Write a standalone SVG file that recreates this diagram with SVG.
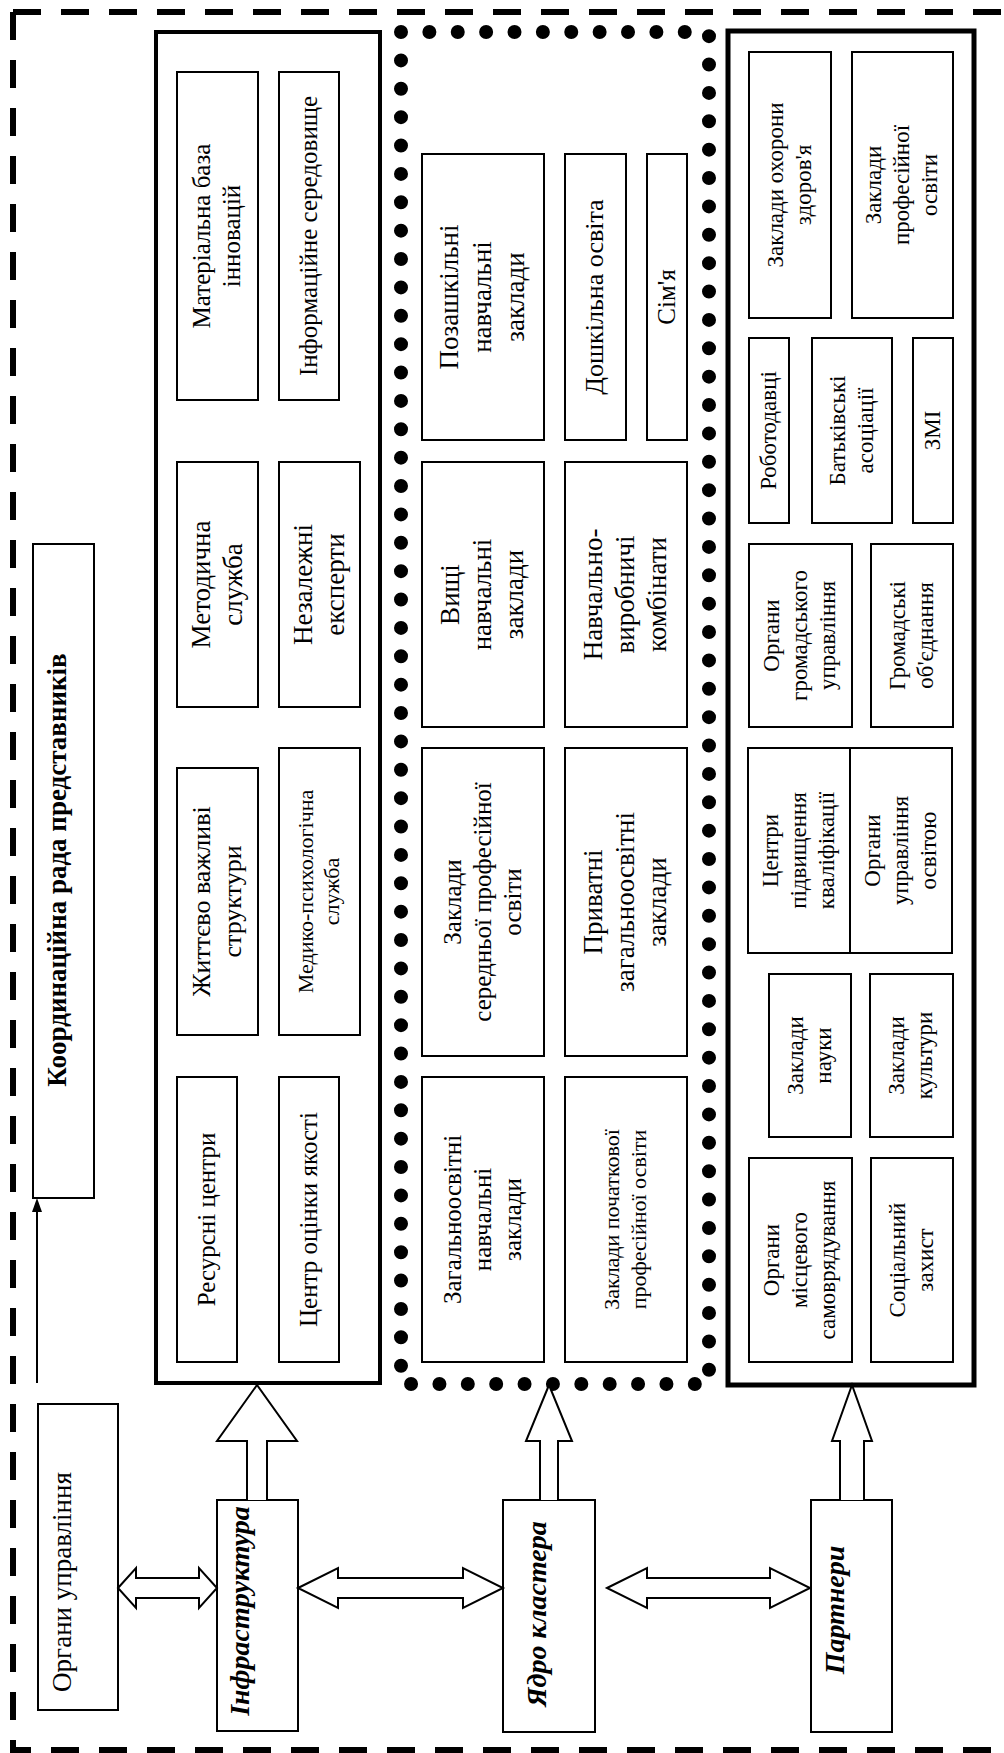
<svg xmlns="http://www.w3.org/2000/svg" width="1004" height="1753" viewBox="0 0 1004 1753">
<style>
.bg{fill:#fff}
.b{fill:#fff;stroke:#000;stroke-width:2}
.frame{fill:none;stroke:#000;stroke-width:4}
.t{font-family:"Liberation Serif","Times New Roman",serif;fill:#000;text-anchor:middle}
.p{font-family:"Liberation Serif","Times New Roman",serif;fill:#000;text-anchor:middle;font-size:23px}
.bi{font-family:"Liberation Serif","Times New Roman",serif;fill:#000;text-anchor:middle;font-weight:bold;font-style:italic;font-size:28px}
.dash{fill:none;stroke:#000;stroke-width:6;stroke-dasharray:28 20}
.ar{fill:#fff;stroke:#000;stroke-width:2;stroke-linejoin:miter}
</style>
<rect class="bg" x="0" y="0" width="1004" height="1753"/>
<g id="border">
<path class="dash" d="M13,12 H1004"/>
<path class="dash" d="M13,12 V1750 H1004"/>
</g>
<g id="infrastructure-group">
<rect class="frame" x="156" y="32" width="224" height="1351"/>
</g>
<g id="core-group">
<rect x="401" y="32" width="308" height="1352" fill="none" stroke="#000" stroke-width="14" stroke-linecap="round" stroke-dasharray="0 28.376"/>
</g>
<g id="partners-group">
<rect x="728" y="31" width="246" height="1354" fill="none" stroke="#000" stroke-width="5"/>
</g>

<g id="n-material">
<rect class="b" x="177" y="72" width="81" height="328"/>
<text class="t" font-size="25" transform="translate(217.5,236) rotate(-90)"><tspan x="0" y="-7.5">Матеріальна база</tspan><tspan x="0" y="22.5">інновацій</tspan></text>
</g>
<g id="n-info">
<rect class="b" x="279" y="72" width="60" height="328"/>
<text class="t" font-size="25" transform="translate(309,236) rotate(-90)"><tspan x="0" y="7.5">Інформаційне середовище</tspan></text>
</g>
<g id="n-method">
<rect class="b" x="177" y="462" width="81" height="245"/>
<text class="t" font-size="27" transform="translate(217.5,584.5) rotate(-90)"><tspan x="0" y="-8">Методична</tspan><tspan x="0" y="24">служба</tspan></text>
</g>
<g id="n-experts">
<rect class="b" x="279" y="462" width="81" height="245"/>
<text class="t" font-size="27" transform="translate(319.5,584.5) rotate(-90)"><tspan x="0" y="-8">Незалежні</tspan><tspan x="0" y="24">експерти</tspan></text>
</g>
<g id="n-vital">
<rect class="b" x="177" y="768" width="81" height="267"/>
<text class="t" font-size="26" transform="translate(217.5,901.5) rotate(-90)"><tspan x="0" y="-7.7">Життєво важливі</tspan><tspan x="0" y="23.3">структури</tspan></text>
</g>
<g id="n-medpsy">
<rect class="b" x="279" y="748" width="81" height="287"/>
<text class="t" font-size="22" transform="translate(319.5,891.5) rotate(-90)"><tspan x="0" y="-6.6">Медико-психологічна</tspan><tspan x="0" y="19.8">служба</tspan></text>
</g>
<g id="n-resource">
<rect class="b" x="177" y="1077" width="60" height="285"/>
<text class="t" font-size="25" transform="translate(207,1219.5) rotate(-90)"><tspan x="0" y="7.5">Ресурсні центри</tspan></text>
</g>
<g id="n-quality">
<rect class="b" x="279" y="1077" width="60" height="285"/>
<text class="t" font-size="25" transform="translate(309,1219.5) rotate(-90)"><tspan x="0" y="7.5">Центр оцінки якості</tspan></text>
</g>

<g id="n-extracurricular">
<rect class="b" x="422" y="154" width="122" height="286"/>
<text class="t" font-size="27" transform="translate(483,297) rotate(-90)"><tspan x="0" y="-25">Позашкільні</tspan><tspan x="0" y="8">навчальні</tspan><tspan x="0" y="41">заклади</tspan></text>
</g>
<g id="n-preschool">
<rect class="b" x="565" y="154" width="61" height="286"/>
<text class="t" font-size="26" transform="translate(595.5,297) rotate(-90)"><tspan x="0" y="7.8">Дошкільна освіта</tspan></text>
</g>
<g id="n-family">
<rect class="b" x="647" y="154" width="40" height="286"/>
<text class="t" font-size="25" transform="translate(667,297) rotate(-90)"><tspan x="0" y="7.5">Сім'я</tspan></text>
</g>
<g id="n-higher">
<rect class="b" x="422" y="462" width="122" height="265"/>
<text class="t" font-size="27" transform="translate(483,594.5) rotate(-90)"><tspan x="0" y="-24">Вищі</tspan><tspan x="0" y="8">навчальні</tspan><tspan x="0" y="40">заклади</tspan></text>
</g>
<g id="n-combines">
<rect class="b" x="565" y="462" width="122" height="265"/>
<text class="t" font-size="27" transform="translate(626,594.5) rotate(-90)"><tspan x="0" y="-24">Навчально-</tspan><tspan x="0" y="8">виробничі</tspan><tspan x="0" y="40">комбінати</tspan></text>
</g>
<g id="n-secondary-prof">
<rect class="b" x="422" y="748" width="122" height="308"/>
<text class="t" font-size="25" transform="translate(483,902) rotate(-90)"><tspan x="0" y="-22.5">Заклади</tspan><tspan x="0" y="7.5">середньої професійної</tspan><tspan x="0" y="37.5">освіти</tspan></text>
</g>
<g id="n-private">
<rect class="b" x="565" y="748" width="122" height="308"/>
<text class="t" font-size="27" transform="translate(626,902) rotate(-90)"><tspan x="0" y="-24">Приватні</tspan><tspan x="0" y="8">загальноосвітні</tspan><tspan x="0" y="40">заклади</tspan></text>
</g>
<g id="n-general">
<rect class="b" x="422" y="1077" width="122" height="285"/>
<text class="t" font-size="25" transform="translate(483,1219.5) rotate(-90)"><tspan x="0" y="-22.5">Загальноосвітні</tspan><tspan x="0" y="7.5">навчальні</tspan><tspan x="0" y="37.5">заклади</tspan></text>
</g>
<g id="n-primary-prof">
<rect class="b" x="565" y="1077" width="122" height="285"/>
<text class="t" font-size="22" transform="translate(626,1219.5) rotate(-90)"><tspan x="0" y="-6.6">Заклади початкової</tspan><tspan x="0" y="19.8">професійної освіти</tspan></text>
</g>

<g id="n-health">
<rect class="b" x="749" y="52" width="82" height="266"/>
<text class="p" transform="translate(790,185) rotate(-90)"><tspan x="0" y="-7.1">Заклади охорони</tspan><tspan x="0" y="20.9">здоров'я</tspan></text>
</g>
<g id="n-profedu">
<rect class="b" x="852" y="52" width="101" height="266"/>
<text class="p" transform="translate(902.5,185) rotate(-90)"><tspan x="0" y="-21.1">Заклади</tspan><tspan x="0" y="6.9">професійної</tspan><tspan x="0" y="34.9">освіти</tspan></text>
</g>
<g id="n-employers">
<rect class="b" x="749" y="338" width="40" height="185"/>
<text class="p" transform="translate(769,430.5) rotate(-90)"><tspan x="0" y="6.9">Роботодавці</tspan></text>
</g>
<g id="n-parents">
<rect class="b" x="812" y="338" width="80" height="185"/>
<text class="p" transform="translate(852,430.5) rotate(-90)"><tspan x="0" y="-7.1">Батьківські</tspan><tspan x="0" y="20.9">асоціації</tspan></text>
</g>
<g id="n-media">
<rect class="b" x="913" y="338" width="40" height="185"/>
<text class="p" transform="translate(933,430.5) rotate(-90)"><tspan x="0" y="6.9">ЗМІ</tspan></text>
</g>
<g id="n-public-gov">
<rect class="b" x="749" y="544" width="103" height="183"/>
<text class="p" transform="translate(800.5,635.5) rotate(-90)"><tspan x="0" y="-21.1">Органи</tspan><tspan x="0" y="6.9">громадського</tspan><tspan x="0" y="34.9">управління</tspan></text>
</g>
<g id="n-public-assoc">
<rect class="b" x="871" y="544" width="82" height="183"/>
<text class="p" transform="translate(912,635.5) rotate(-90)"><tspan x="0" y="-7.1">Громадські</tspan><tspan x="0" y="20.9">об'єднання</tspan></text>
</g>
<g id="n-qualification">
<rect class="b" x="748" y="748" width="102" height="205"/>
<text class="p" transform="translate(799,850.5) rotate(-90)"><tspan x="0" y="-21.1">Центри</tspan><tspan x="0" y="6.9">підвищення</tspan><tspan x="0" y="34.9">кваліфікації</tspan></text>
</g>
<g id="n-edu-gov">
<rect class="b" x="850" y="748" width="102" height="205"/>
<text class="p" transform="translate(901,850.5) rotate(-90)"><tspan x="0" y="-21.1">Органи</tspan><tspan x="0" y="6.9">управління</tspan><tspan x="0" y="34.9">освітою</tspan></text>
</g>
<g id="n-science">
<rect class="b" x="769" y="974" width="82" height="163"/>
<text class="p" transform="translate(810,1055.5) rotate(-90)"><tspan x="0" y="-7.1">Заклади</tspan><tspan x="0" y="20.9">науки</tspan></text>
</g>
<g id="n-culture">
<rect class="b" x="870" y="974" width="83" height="163"/>
<text class="p" transform="translate(911.5,1055.5) rotate(-90)"><tspan x="0" y="-7.1">Заклади</tspan><tspan x="0" y="20.9">культури</tspan></text>
</g>
<g id="n-local-gov">
<rect class="b" x="749" y="1158" width="103" height="204"/>
<text class="p" transform="translate(800.5,1260) rotate(-90)"><tspan x="0" y="-21.1">Органи</tspan><tspan x="0" y="6.9">місцевого</tspan><tspan x="0" y="34.9">самоврядування</tspan></text>
</g>
<g id="n-social">
<rect class="b" x="871" y="1158" width="82" height="204"/>
<text class="p" transform="translate(912,1260) rotate(-90)"><tspan x="0" y="-7.1">Соціальний</tspan><tspan x="0" y="20.9">захист</tspan></text>
</g>

<g id="n-council">
<rect class="b" x="33" y="544" width="61" height="654"/>
<text class="t" font-size="27" font-weight="bold" transform="translate(66,870) rotate(-90)"><tspan x="0" y="0">Координаційна рада представників</tspan></text>
</g>
<g id="n-governance">
<rect class="b" x="38" y="1404" width="80" height="306"/>
<text class="t" font-size="27" transform="translate(71,1582) rotate(-90)"><tspan x="0" y="0">Органи управління</tspan></text>
</g>
<g id="n-infra-label">
<rect class="b" x="217" y="1500" width="81" height="231"/>
<text class="bi" transform="translate(249,1611) rotate(-90)">Інфраструктура</text>
</g>
<g id="n-core-label">
<rect class="b" x="503" y="1500" width="92" height="232"/>
<text class="bi" transform="translate(546,1614) rotate(-90)">Ядро кластера</text>
</g>
<g id="n-partners-label">
<rect class="b" x="811" y="1500" width="81" height="232"/>
<text class="bi" transform="translate(844,1610) rotate(-90)">Партнери</text>
</g>

<g id="connectors">
<path class="ar" d="M247,1500 V1441 H217 L257,1385 L297,1441 H267 V1500"/>
<path class="ar" d="M540,1500 V1441 H526 L549,1385 L572,1441 H558 V1500"/>
<path class="ar" d="M840,1500 V1441 H832 L852,1385 L872,1441 H864 V1500"/>
<path class="ar" d="M118,1588 L136,1568 V1578 H199 V1568 L217,1588 L199,1608 V1598 H136 V1608 Z"/>
<path class="ar" d="M298,1588 L338,1568 V1578 H463 V1568 L503,1588 L463,1608 V1598 H338 V1608 Z"/>
<path class="ar" d="M607,1588 L647,1568 V1578 H770 V1568 L810,1588 L770,1608 V1598 H647 V1608 Z"/>
<line x1="37" y1="1383" x2="37" y2="1210" stroke="#000" stroke-width="2"/>
<polygon points="37,1198 42,1212 32,1212" fill="#000"/>
</g>
</svg>
